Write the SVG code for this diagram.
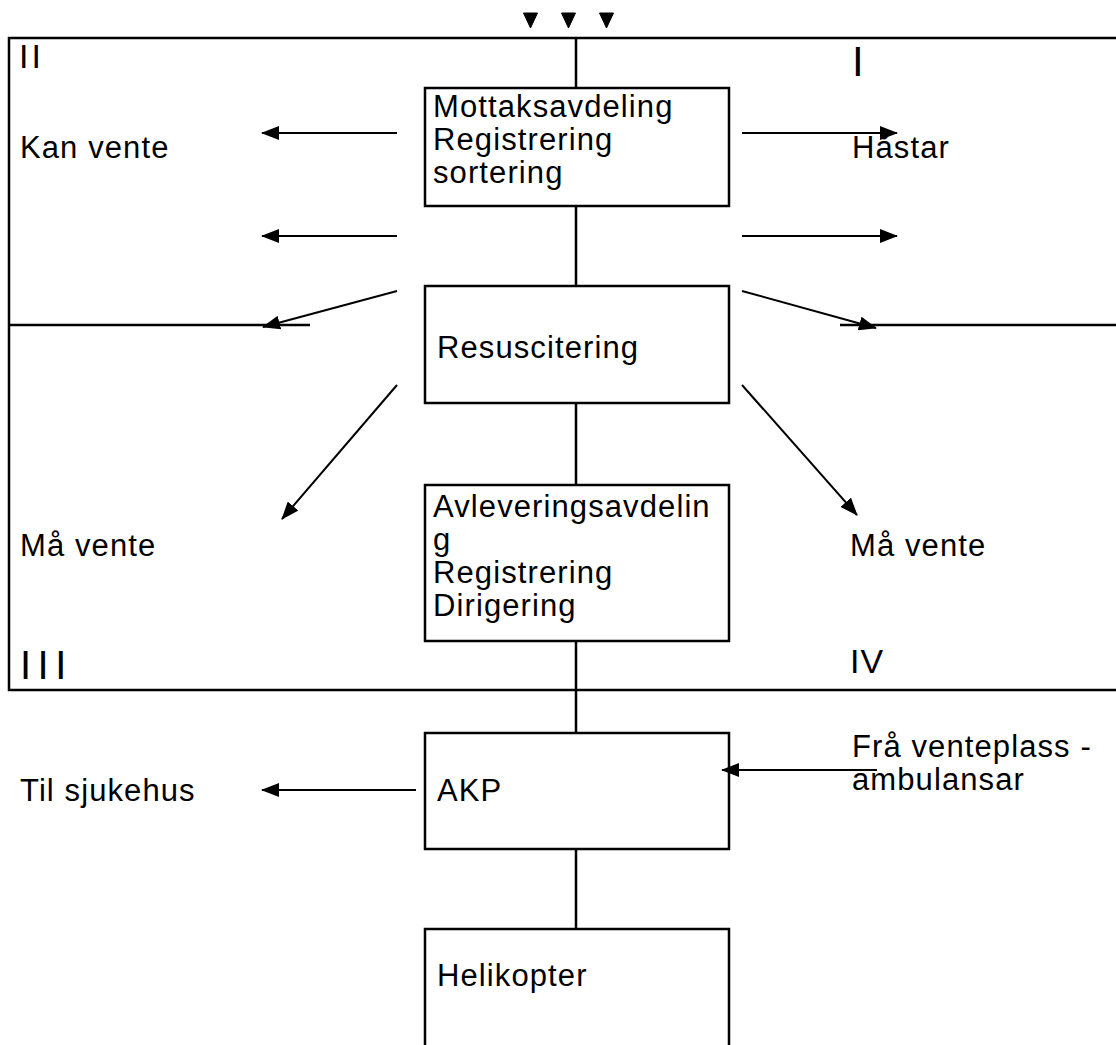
<svg xmlns="http://www.w3.org/2000/svg" width="1116" height="1045" viewBox="0 0 1116 1045">
<defs>
<style>
text{font-family:"Liberation Sans",Arial,sans-serif;font-size:31px;letter-spacing:1.1px;fill:#000}
.ln{stroke:#000;stroke-width:2.5;fill:none}
.box{stroke:#000;stroke-width:2.5;fill:#fff}
.ar{stroke:#000;stroke-width:2;fill:none;marker-end:url(#ah)}
.tip{fill:#000;stroke:#000;stroke-width:1}
</style>
<marker id="ah" viewBox="0 0 18 14" refX="17" refY="7" markerWidth="18" markerHeight="14" markerUnits="userSpaceOnUse" orient="auto">
<path d="M0,0 L18,7 L0,14 z" fill="#000"/>
</marker>
</defs>
<rect width="1116" height="1045" fill="#fff"/>
<g id="frame">
<path class="ln" d="M1116,38 H9 V690 H1116"/>
<path class="ln" d="M9,325 H310 M840,325 H1116"/>
<path class="ln" d="M576,38 V88 M576,206 V286 M576,403 V485 M576,641 V733 M576,849 V929"/>
<text x="19" y="68" style="font-size:34px;letter-spacing:3px">II</text>
<text x="852" y="76" style="font-size:42px">I</text>
<text x="20" y="679" style="font-size:40px;letter-spacing:6.5px">III</text>
<text x="850" y="673" style="font-size:34px">IV</text>
<text x="20" y="158">Kan vente</text>
<text x="852" y="158">Håstar</text>
<text x="20" y="556">Må vente</text>
<text x="850" y="556">Må vente</text>
<text x="20" y="801">Til sjukehus</text>
<text x="852" y="757">Frå venteplass -</text>
<text x="852" y="790">ambulansar</text>
</g>
<g id="mottak">
<rect class="box" x="425" y="88" width="304" height="118"/>
<text x="433" y="117">Mottaksavdeling</text>
<text x="433" y="150">Registrering</text>
<text x="433" y="183">sortering</text>
</g>
<g id="resus">
<rect class="box" x="425" y="286" width="304" height="117"/>
<text x="437" y="358">Resuscitering</text>
</g>
<g id="avlevering">
<rect class="box" x="425" y="485" width="304" height="156"/>
<text x="433" y="517">Avleveringsavdelin</text>
<text x="433" y="550">g</text>
<text x="433" y="583">Registrering</text>
<text x="433" y="616">Dirigering</text>
</g>
<g id="akp">
<rect class="box" x="425" y="733" width="304" height="116"/>
<text x="437" y="801">AKP</text>
</g>
<g id="helikopter">
<path class="box" d="M425,1047 V929 H729 V1047"/>
<text x="437" y="986">Helikopter</text>
</g>
<g id="connectors">
<path class="tip" d="M523.5,13 L537.5,13 L530.5,28 z"/>
<path class="tip" d="M561.5,13 L575.5,13 L568.5,28 z"/>
<path class="tip" d="M599.5,13 L613.5,13 L606.5,28 z"/>
<line class="ar" x1="397" y1="133" x2="262" y2="133"/>
<line class="ar" x1="742" y1="133" x2="897" y2="133"/>
<line class="ar" x1="397" y1="236" x2="262" y2="236"/>
<line class="ar" x1="742" y1="236" x2="897" y2="236"/>
<line class="ar" x1="397" y1="291" x2="263" y2="327"/>
<line class="ar" x1="742" y1="291" x2="876" y2="328"/>
<line class="ar" x1="397" y1="385" x2="282" y2="519"/>
<line class="ar" x1="742" y1="385" x2="857" y2="515"/>
<line class="ar" x1="416" y1="790" x2="262" y2="790"/>
<line class="ar" x1="877" y1="770" x2="722" y2="770"/>
</g>
</svg>
